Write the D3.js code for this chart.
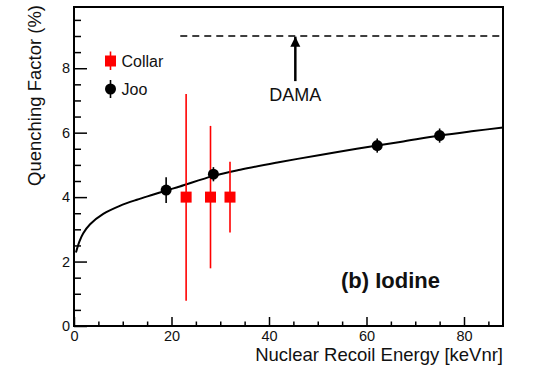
<!DOCTYPE html>
<html>
<head>
<meta charset="utf-8">
<script src="https://cdn.jsdelivr.net/npm/d3@7"></script>
<style>
  body { margin: 0; background: #fff; }
  svg { display: block; font-family: "Liberation Sans", Arial, Helvetica, sans-serif; }
</style>
</head>
<body>
<div id="chart"></div>
<script>
// Quenching factor for iodine recoils
const jooEnergy = [18.9, 28.6, 62.2, 75.0];
const jooQf = [4.22, 4.71, 5.60, 5.91];
const jooErr = [0.40, 0.22, 0.22, 0.22];

const collarEnergy = [23.0, 28.0, 32.0];
const collarQf = [4.0, 4.0, 4.0];
const collarLow = [0.78, 1.79, 2.90];
const collarHigh = [7.20, 6.21, 5.10];

// fit curve
const fitEnergy = [0.4, 1.1, 1.9, 3.3, 6.0, 9.4, 12.9, 16.3, 19.0, 21.7, 28.6, 34.1, 42.0, 50.5, 58.0, 66.9, 75.0, 82.0, 88.0];
const fitQf = [2.28, 2.62, 2.88, 3.16, 3.48, 3.73, 3.92, 4.08, 4.21, 4.33, 4.66, 4.85, 5.08, 5.31, 5.50, 5.71, 5.91, 6.05, 6.16];

const damaQf = 9.0;
const damaStart = 21.8;
const damaArrow = { energy: 45.4, from: 7.6, to: 8.98 };

const xTicks = [0, 20, 40, 60, 80];
const yTicks = [0, 2, 4, 6, 8];

const width = 534, height = 369;
const margin = { left: 74, right: 503, top: 7, bottom: 326 };

const svg = d3.select("#chart").append("svg")
  .attr("width", width)
  .attr("height", height);

const x = d3.scaleLinear().domain([0, 88]).range([margin.left, margin.right]);
const y = d3.scaleLinear().domain([0, 9.9]).range([margin.bottom, margin.top]);

// === Axes (ROOT style, ticks inside) ===
const xMinor = x.ticks(18).filter(t => !xTicks.includes(t));
const yMinor = y.ticks(20).filter(t => !yTicks.includes(t));

const xAxisG = svg.append("g").attr("transform", `translate(0,${margin.bottom})`);
xAxisG.call(d3.axisBottom(x).tickValues(xMinor).tickSize(-4.5).tickFormat(""));
xAxisG.append("g").call(d3.axisBottom(x).tickValues(xTicks).tickSize(-9).tickPadding(5).tickFormat(d3.format("d")));

const yAxisG = svg.append("g").attr("transform", `translate(${margin.left},0)`);
yAxisG.call(d3.axisLeft(y).tickValues(yMinor).tickSize(-7).tickFormat(""));
yAxisG.append("g").call(d3.axisLeft(y).tickValues(yTicks).tickSize(-13).tickPadding(4).tickFormat(d3.format("d")));

svg.selectAll(".domain").remove();
svg.selectAll(".tick line").attr("stroke", "#000").attr("stroke-width", 1.5);
svg.selectAll(".tick text")
  .attr("fill", "#111")
  .attr("font-size", "14.5px")
  .attr("font-family", "Liberation Sans, Arial, sans-serif");

// frame
svg.append("rect")
  .attr("x", margin.left).attr("y", margin.top)
  .attr("width", margin.right - margin.left).attr("height", margin.bottom - margin.top)
  .attr("fill", "none")
  .attr("stroke", "#000")
  .attr("stroke-width", 2);

// axis titles
svg.append("text")
  .attr("x", margin.right)
  .attr("y", 361)
  .attr("text-anchor", "end")
  .attr("font-size", "18.5px")
  .attr("fill", "#111")
  .text("Nuclear Recoil Energy [keVnr]");

svg.append("text")
  .attr("transform", `translate(41,${margin.top - 2}) rotate(-90)`)
  .attr("text-anchor", "end")
  .attr("font-size", "18.5px")
  .attr("fill", "#111")
  .text("Quenching Factor (%)");

// === DAMA ===
svg.append("line")
  .attr("x1", x(damaStart)).attr("x2", x(88))
  .attr("y1", y(damaQf)).attr("y2", y(damaQf))
  .attr("stroke", "#000")
  .attr("stroke-width", 1.5)
  .attr("stroke-dasharray", "7,5");

svg.append("defs").append("marker")
  .attr("id", "head")
  .attr("viewBox", "0 0 10 10")
  .attr("refX", 10).attr("refY", 5)
  .attr("markerWidth", 10).attr("markerHeight", 11)
  .attr("markerUnits", "userSpaceOnUse")
  .attr("orient", "auto")
  .append("path")
  .attr("d", "M0,0L10,5L0,10Z")
  .attr("fill", "#000");

svg.append("line")
  .attr("x1", x(damaArrow.energy)).attr("x2", x(damaArrow.energy))
  .attr("y1", y(damaArrow.from)).attr("y2", y(damaArrow.to))
  .attr("stroke", "#000")
  .attr("stroke-width", 2.5)
  .attr("marker-end", "url(#head)");

svg.append("text")
  .attr("x", x(damaArrow.energy))
  .attr("y", 101)
  .attr("text-anchor", "middle")
  .attr("font-size", "18px")
  .attr("fill", "#111")
  .text("DAMA");

// === Fit curve ===
const line = d3.line()
  .x((d, i) => x(fitEnergy[i]))
  .y(d => y(d))
  .curve(d3.curveCatmullRom.alpha(0.5));

svg.append("path")
  .datum(fitQf)
  .attr("fill", "none")
  .attr("stroke", "#000")
  .attr("stroke-width", 2)
  .attr("d", line);

// === Collar (red squares) ===
const collar = svg.append("g");
collarEnergy.forEach((e, i) => {
  collar.append("line")
    .attr("x1", x(e)).attr("x2", x(e))
    .attr("y1", y(collarLow[i])).attr("y2", y(collarHigh[i]))
    .attr("stroke", "#ff0000")
    .attr("stroke-width", 1.6);
  collar.append("rect")
    .attr("x", x(e) - 5.5).attr("y", y(collarQf[i]) - 5.5)
    .attr("width", 11).attr("height", 11)
    .attr("fill", "#ff0000");
});

// === Joo (black circles) ===
const joo = svg.append("g");
jooEnergy.forEach((e, i) => {
  joo.append("line")
    .attr("x1", x(e)).attr("x2", x(e))
    .attr("y1", y(jooQf[i] - jooErr[i])).attr("y2", y(jooQf[i] + jooErr[i]))
    .attr("stroke", "#000")
    .attr("stroke-width", 1.6);
  joo.append("circle")
    .attr("cx", x(e)).attr("cy", y(jooQf[i]))
    .attr("r", 5.5)
    .attr("fill", "#000");
});

// === Legend ===
const legend = svg.append("g").attr("transform", "translate(110.5,0)");
legend.append("line").attr("y1", 51.5).attr("y2", 70).attr("stroke", "#ff0000").attr("stroke-width", 1.6);
legend.append("rect").attr("x", -5.5).attr("y", 55.5).attr("width", 11).attr("height", 11).attr("fill", "#ff0000");
legend.append("text").attr("x", 11).attr("y", 66.5).attr("font-size", "16px").attr("fill", "#111").text("Collar");

legend.append("line").attr("y1", 80).attr("y2", 98).attr("stroke", "#000").attr("stroke-width", 1.6);
legend.append("circle").attr("cy", 89).attr("r", 5.5).attr("fill", "#000");
legend.append("text").attr("x", 11).attr("y", 94.5).attr("font-size", "16px").attr("fill", "#111").text("Joo");

// label
svg.append("text")
  .attr("x", 341)
  .attr("y", 288)
  .attr("font-size", "22px")
  .attr("font-weight", "bold")
  .attr("fill", "#111")
  .text("(b) Iodine");
</script>
</body>
</html>
